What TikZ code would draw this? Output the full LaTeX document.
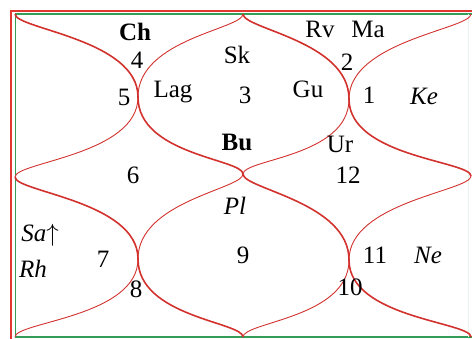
\documentclass[tikz,border=0pt]{standalone}
\usepackage{fontspec}
\setmainfont{Liberation Serif}
\definecolor{framered}{RGB}{224,56,48}
\definecolor{framegreen}{RGB}{52,158,88}
\definecolor{arcred}{RGB}{210,50,46}
\newcommand\chartfont{\fontsize{25}{30}\selectfont}

\begin{document}
\begin{tikzpicture}[x=1pt, y=-1pt,
  thickarc/.style={draw=arcred, line width=1.6pt},
  thinarc/.style={draw=arcred, line width=0.9pt},
  lbl/.style={anchor=base, inner sep=0pt, font=\chartfont}
]
  \useasboundingbox (0,0) rectangle (472,338);
  \clip (0,0) rectangle (472,338);

  % Frame
  \draw[framered, line width=2pt] (11,10.5) rectangle (480,346);
  \draw[framegreen, line width=1.5pt] (15.5,14.2) rectangle (473,337.2);
  \draw[framegreen!12, line width=0.8pt] (468,14) -- (468,337);

  % Chart points
  \coordinate (TL) at (15,14);   \coordinate (TM) at (243,14);  \coordinate (TR) at (471,14);
  \coordinate (ML) at (15,177);  \coordinate (C)  at (243,174); \coordinate (MR) at (471,176);
  \coordinate (BL) at (15,337);  \coordinate (BM) at (243,337); \coordinate (BR) at (471,337);
  \coordinate (Q1) at (138,97);  \coordinate (Q2) at (349,99);
  \coordinate (Q3) at (138,259); \coordinate (Q4) at (349,260);

  % Falling arcs
  \draw[thickarc] (TL) .. controls +(0,15) and +(0,-58) .. (Q1) .. controls +(0,58) and +(0,-15) .. (C);
  \draw[thickarc] (TM) .. controls +(0,15) and +(0,-58) .. (Q2) .. controls +(0,58) and +(0,-15) .. (MR);
  \draw[thickarc] (ML) .. controls +(0,15) and +(0,-58) .. (Q3) .. controls +(0,58) and +(0,-15) .. (BM);
  \draw[thickarc] (C) .. controls +(0,15) and +(0,-58) .. (Q4) .. controls +(0,58) and +(0,-15) .. (BR);

  % Rising arcs
  \draw[thinarc] (TM) .. controls +(0,15) and +(0,-58) .. (Q1) .. controls +(0,58) and +(0,-15) .. (ML);
  \draw[thinarc] (TR) .. controls +(0,15) and +(0,-58) .. (Q2) .. controls +(0,58) and +(0,-15) .. (C);
  \draw[thinarc] (C) .. controls +(0,15) and +(0,-58) .. (Q3) .. controls +(0,58) and +(0,-15) .. (BL);
  \draw[thinarc] (MR) .. controls +(0,15) and +(0,-58) .. (Q4) .. controls +(0,58) and +(0,-15) .. (BM);

  % House numbers
  \node[lbl] (h1)  at (369,103) {1};
  \node[lbl] (h2)  at (347,70)  {2};
  \node[lbl] (h3)  at (245,103) {3};
  \node[lbl] (h4)  at (137,68)  {4};
  \node[lbl] (h5)  at (124,105) {5};
  \node[lbl] (h6)  at (133,183) {6};
  \node[lbl] (h7)  at (103,267) {7};
  \node[lbl] (h8)  at (136,297) {8};
  \node[lbl] (h9)  at (243,263) {9};
  \node[lbl] (h10) at (350,295) {10};
  \node[lbl] (h11) at (375,263) {11};
  \node[lbl] (h12) at (348,183) {12};

  % Planets
  \node[lbl] (ch)  at (135,40)  {\textbf{Ch}};
  \node[lbl] (lag) at (173,97)  {Lag};
  \node[lbl] (sk)  at (237,63)  {Sk};
  \node[lbl] (rv)  at (320,37)  {Rv};
  \node[lbl] (ma)  at (368,37)  {Ma};
  \node[lbl] (gu)  at (308,97)  {Gu};
  \node[lbl] (ke)  at (424,104) {\textit{Ke}};
  \node[lbl] (bu)  at (237,150) {\textbf{Bu}};
  \node[lbl] (ur)  at (340,152) {Ur};
  \node[lbl] (pl)  at (235,214) {\textit{Pl}};
  \node[lbl] (sa)  at (40,241)  {\textit{Sa}$\uparrow$};
  \node[lbl] (rh)  at (33,277)  {\textit{Rh}};
  \node[lbl] (ne)  at (428,263) {\textit{Ne}};
\end{tikzpicture}
\end{document}
